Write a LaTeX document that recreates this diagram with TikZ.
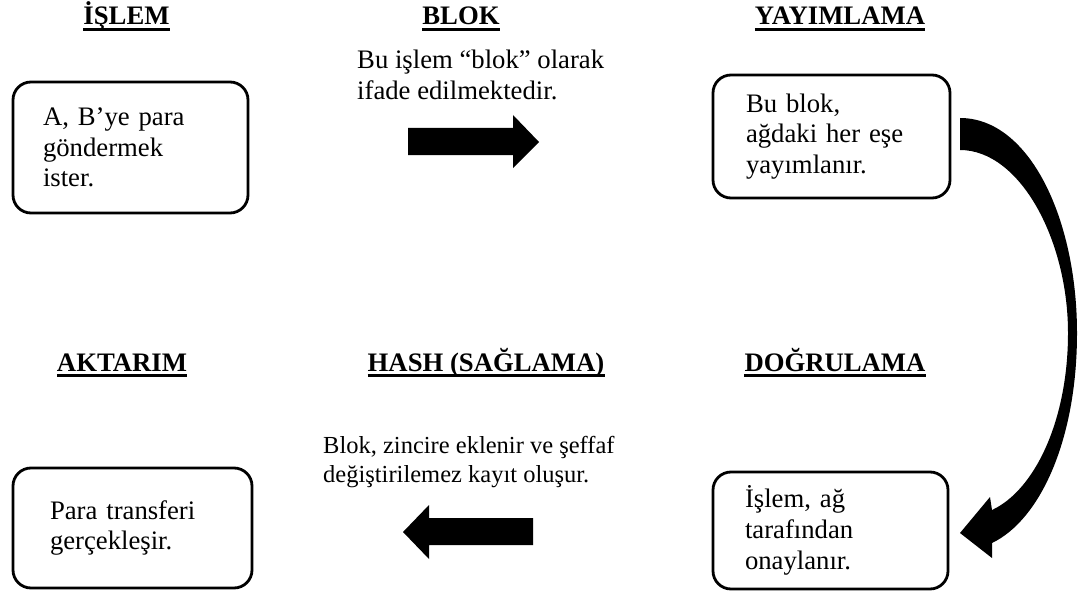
\documentclass[tikz,border=0pt]{standalone}
\usepackage{fontspec}
\setmainfont{Liberation Serif}
\begin{document}
\begin{tikzpicture}[x=1pt,y=-1pt,
  font=\fontsize{26.7}{30.7}\selectfont,
  box/.style={draw=black, line width=2.8pt, rounded corners=18pt, align=left, inner sep=0pt},
  head/.style={anchor=base, inner sep=0pt, font=\fontsize{26.7}{30.7}\selectfont\bfseries},
  uline/.style={line width=2.6pt},
  note/.style={anchor=north west, inner sep=0pt, align=left},
  blockarrow/.style={fill=black, draw=none}
]
\useasboundingbox (0,0) rectangle (1092,591);

% headings
\node[head] (h1) at (126.5,25) {İŞLEM};
\node[head] (h2) at (461,25) {BLOK};
\node[head] (h3) at (840,25) {YAYIMLAMA};
\node[head] (h4) at (122,371) {AKTARIM};
\node[head] (h5) at (486,371) {HASH (SAĞLAMA)};
\node[head] (h6) at (835,371) {DOĞRULAMA};
\foreach \h in {h1,h2,h3,h4,h5,h6}
  \draw[uline] ([yshift=-4.5pt]\h.base west) -- ([yshift=-4.5pt]\h.base east);

% boxes
\node[box, minimum width=235pt, minimum height=131pt, text width=175pt] (b1) at (130.5,147.5)
  {A, B’ye para\\göndermek\\ister.};
\node[box, minimum width=237pt, minimum height=123pt, text width=171pt] (b3) at (831.5,136.5)
  {Bu blok,\\ağdaki her eşe\\yayımlanır.};
\node[box, minimum width=235pt, minimum height=117pt, text width=171pt] (b5) at (830.5,530.5)
  {İşlem, ağ\\tarafından\\onaylanır.};
\node[box, minimum width=239pt, minimum height=120pt, text width=165pt] (b4) at (132.5,528)
  {Para transferi\\gerçekleşir.};

% middle notes
\node[note] (t2) at (357,49.8) {Bu işlem “blok” olarak\\ifade edilmektedir.};
\node[note, font=\fontsize{24.5}{29.5}\selectfont] (t5) at (323,436) {Blok, zincire eklenir ve şeffaf\\değiştirilemez kayıt oluşur.};

% straight block arrows
\fill[blockarrow] (408,128) -- (513,128) -- (513,115) -- (539,142) -- (513,168) -- (513,155) -- (408,155) -- cycle;
\fill[blockarrow] (533,518) -- (429,518) -- (429,505) -- (403,532) -- (429,559) -- (429,545) -- (533,545) -- cycle;

% curved arrow
\fill[blockarrow] (960,118) .. controls (1030,118) and (1077,220) .. (1077,333)
  .. controls (1077,440) and (1040,520) .. (992,543)
  -- (992,558) -- (960,533) -- (990,497) -- (992,510)
  .. controls (1035,490) and (1068,420) .. (1068,333)
  .. controls (1068,240) and (1020,150) .. (960,150) -- cycle;
\end{tikzpicture}
\end{document}
